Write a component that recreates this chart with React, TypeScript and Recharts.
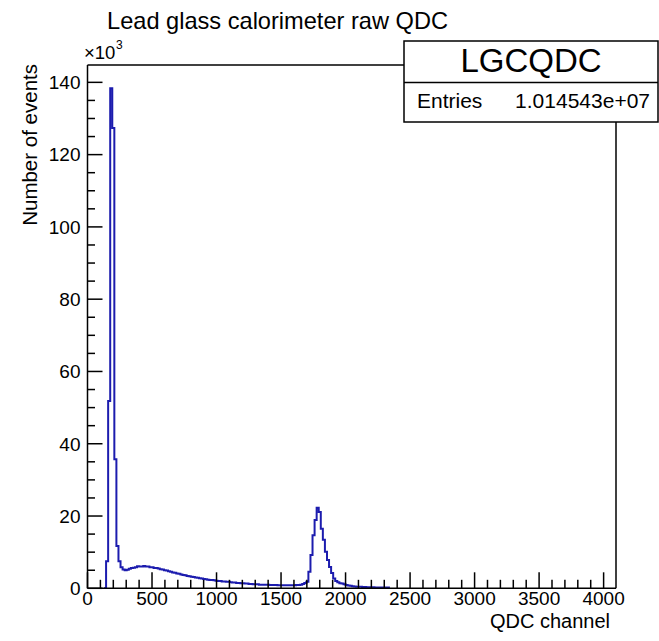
import React from 'react';
import { ComposedChart, Line, XAxis, YAxis, ReferenceLine } from 'recharts';

// ---- data ----
const BIN_WIDTH = 16; // QDC channels per bin
const N_BINS = 256;
const X_MAX = 4096;
const Y_MAX = 144.8; // in units of 10^3 events
const FIRST_BIN = 9; // first non-empty bin (channel 144)

// Number of events per bin (x10^3), starting at FIRST_BIN, 16 channels per bin
const counts: number[] = [
  7.5, 51.8, 138.4, 127.4, 35.7, 11.7, 7.5,
  5.8, 5.2, 5.0, 5.1, 5.4, 5.6, 5.7, 5.8, 6.1, 6.0, 6.0, 6.2, 6.0, 6.0, 5.8, 5.8,
  5.6, 5.6, 5.5, 5.3, 5.2, 5.0, 4.9, 4.7, 4.6, 4.4, 4.3, 4.1, 4.0, 3.8, 3.7, 3.6,
  3.4, 3.3, 3.2, 3.1, 3.0, 2.9, 2.8, 2.7, 2.6, 2.5, 2.4, 2.3, 2.3, 2.2, 2.1, 2.0,
  2.0, 1.9, 1.9, 1.8, 1.8, 1.7, 1.6, 1.6, 1.5, 1.5, 1.4, 1.4, 1.3, 1.3, 1.2, 1.2,
  1.1, 1.1, 1.1, 1.0, 1.0, 1.0, 0.95, 0.95, 0.9, 0.9, 0.9, 0.9, 0.85, 0.85, 0.85, 0.85,
  0.85, 0.85, 0.85, 0.85, 0.85, 0.9, 0.9, 1.0, 1.2, 1.5, 1.8, 4.6, 9.2, 14.7, 18.9, 22.3,
  21.1, 16.5, 13.4, 10.1, 7.8, 5.9, 4.2, 2.7, 2.0, 1.7, 1.4, 1.3, 1.1, 0.9, 0.8, 0.7,
  0.6, 0.5, 0.45, 0.4, 0.4, 0.35, 0.35, 0.3, 0.3, 0.3, 0.3, 0.25, 0.25, 0.25, 0.25, 0.2,
  0.2, 0.2,
];

const xMajorTicks = [0, 500, 1000, 1500, 2000, 2500, 3000, 3500, 4000];
const yMajorTicks = [0, 20, 40, 60, 80, 100, 120, 140];
const X_MINOR_STEP = 100;
const Y_MINOR_STEP = 5;

const TITLE = 'Lead glass calorimeter raw QDC';
const X_TITLE = 'QDC channel';
const Y_TITLE = 'Number of events';
const STATS_NAME = 'LGCQDC';
const STATS_ENTRIES = '1.014543e+07';

// ---- build tables ----
const countAt = (i: number) => {
  const k = i - FIRST_BIN;
  return k >= 0 && k < counts.length ? counts[k] : 0;
};

const points: { ch: number; n: number | null }[] = [];
for (let i = 0; i < N_BINS; i++) {
  const v = countAt(i);
  const show = v > 0 || countAt(i - 1) > 0 || countAt(i + 1) > 0;
  points.push({ ch: i * BIN_WIDTH, n: show ? v : null });
}
points.push({ ch: X_MAX, n: countAt(N_BINS - 1) > 0 ? countAt(N_BINS - 1) : null });

const xTicks: number[] = [];
for (let v = 0; v <= X_MAX; v += X_MINOR_STEP) xTicks.push(v);
const yTicks: number[] = [];
for (let v = 0; v <= Y_MAX; v += Y_MINOR_STEP) yTicks.push(v);

const FONT = '"Liberation Sans", Arial, Helvetica, sans-serif';
const LINE_COLOR = '#1c1cae';

const XTick = (props: any) => {
  const { x, y, payload } = props;
  const major = xMajorTicks.includes(payload.value);
  return (
    <g>
      <line x1={x} x2={x} y1={y} y2={y - (major ? 16 : 8.5)} stroke="#000" strokeWidth={1.5} />
      {major && (
        <text x={x} y={y + 17} textAnchor="middle" fontSize={19} fontFamily={FONT} fill="#000">
          {payload.value}
        </text>
      )}
    </g>
  );
};

const YTick = (props: any) => {
  const { x, y, payload } = props;
  const major = yMajorTicks.includes(payload.value);
  return (
    <g>
      <line x1={x} x2={x + (major ? 15 : 7.5)} y1={y} y2={y} stroke="#000" strokeWidth={1.5} />
      {major && (
        <text x={x - 7} y={y} dy="0.36em" textAnchor="end" fontSize={19} fontFamily={FONT} fill="#000">
          {payload.value}
        </text>
      )}
    </g>
  );
};

export default function App() {
  return (
    <div style={{ position: 'absolute', left: 0, top: 0, width: 659, height: 641, background: '#fff' }}>
      <div style={{ position: 'absolute', left: 0, top: 0 }}>
        <ComposedChart
          width={659}
          height={641}
          data={points}
          margin={{ top: 65, right: 43, bottom: 22.7, left: 27.5 }}
        >
          <XAxis
            dataKey="ch"
            type="number"
            domain={[0, X_MAX]}
            allowDataOverflow
            ticks={xTicks}
            interval={0}
            tickSize={0}
            tickMargin={0}
            tickLine={false}
            tick={<XTick />}
            height={30}
            axisLine={{ stroke: '#000', strokeWidth: 1.5 }}
          />
          <YAxis
            type="number"
            domain={[0, Y_MAX]}
            allowDataOverflow
            ticks={yTicks}
            interval={0}
            tickSize={0}
            tickMargin={0}
            tickLine={false}
            tick={<YTick />}
            width={60}
            axisLine={{ stroke: '#000', strokeWidth: 1.5 }}
          />
          <ReferenceLine y={Y_MAX} stroke="#000" strokeWidth={1.5} ifOverflow="visible" />
          <ReferenceLine x={X_MAX} stroke="#000" strokeWidth={1.5} ifOverflow="visible" />
          <Line
            dataKey="n"
            type="stepAfter"
            stroke={LINE_COLOR}
            strokeWidth={2}
            dot={false}
            activeDot={false}
            connectNulls={false}
            isAnimationActive={false}
          />
        </ComposedChart>
      </div>
      <svg
        width={659}
        height={641}
        style={{ position: 'absolute', left: 0, top: 0, pointerEvents: 'none' }}
      >
        <text x={277.5} y={29} textAnchor="middle" fontSize={23.6} fontFamily={FONT} fill="#000">
          {TITLE}
        </text>
        <text x={84} y={58.5} fontSize={18.5} fontFamily={FONT} fill="#000">
          ×10
        </text>
        <text x={116} y={49} fontSize={12} fontFamily={FONT} fill="#000">
          3
        </text>
        <rect x={404} y={41} width={254} height={81} fill="#fff" stroke="#000" strokeWidth={1.5} />
        <line x1={404} x2={658} y1={82.5} y2={82.5} stroke="#000" strokeWidth={1.5} />
        <text x={531} y={72} textAnchor="middle" fontSize={33} fontFamily={FONT} fill="#000">
          {STATS_NAME}
        </text>
        <text x={417} y={108} fontSize={21} fontFamily={FONT} fill="#000">
          Entries
        </text>
        <text x={650} y={108} textAnchor="end" fontSize={21} fontFamily={FONT} fill="#000">
          {STATS_ENTRIES}
        </text>
        <text x={610} y={628} textAnchor="end" fontSize={20} fontFamily={FONT} fill="#000">
          {X_TITLE}
        </text>
        <text
          x={37}
          y={64}
          textAnchor="end"
          fontSize={20.5}
          fontFamily={FONT}
          fill="#000"
          transform="rotate(-90, 37, 64)"
        >
          {Y_TITLE}
        </text>
      </svg>
    </div>
  );
}
